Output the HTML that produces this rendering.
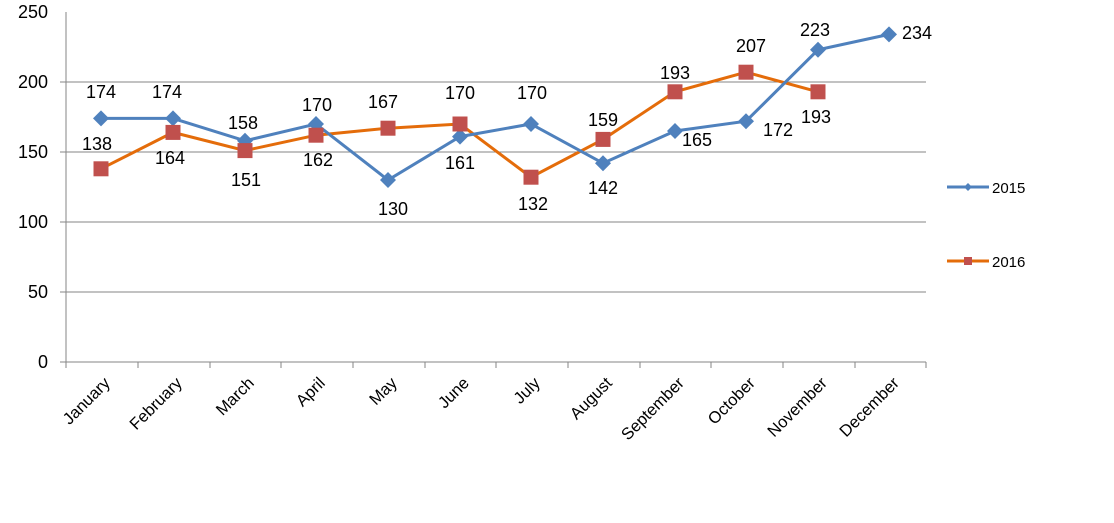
<!DOCTYPE html>
<html><head><style>body{margin:0;background:#fff}svg{display:block}text{font-family:"Liberation Sans",sans-serif;fill:#000}</style></head><body>
<svg width="1114" height="523" xmlns="http://www.w3.org/2000/svg">
<g stroke="#868686" stroke-width="1">
<line x1="60" y1="82" x2="926" y2="82"/><line x1="60" y1="152" x2="926" y2="152"/><line x1="60" y1="222" x2="926" y2="222"/><line x1="60" y1="292" x2="926" y2="292"/><line x1="60" y1="362" x2="926" y2="362"/>
<line x1="66" y1="12" x2="66" y2="362"/>
<line x1="66" y1="362" x2="66" y2="368"/><line x1="138" y1="362" x2="138" y2="368"/><line x1="210" y1="362" x2="210" y2="368"/><line x1="281" y1="362" x2="281" y2="368"/><line x1="353" y1="362" x2="353" y2="368"/><line x1="425" y1="362" x2="425" y2="368"/><line x1="496" y1="362" x2="496" y2="368"/><line x1="568" y1="362" x2="568" y2="368"/><line x1="640" y1="362" x2="640" y2="368"/><line x1="711" y1="362" x2="711" y2="368"/><line x1="783" y1="362" x2="783" y2="368"/><line x1="855" y1="362" x2="855" y2="368"/><line x1="926" y1="362" x2="926" y2="368"/>
</g>
<g font-size="18" text-anchor="end" dominant-baseline="central">
<text x="48" y="12">250</text><text x="48" y="82">200</text><text x="48" y="152">150</text><text x="48" y="222">100</text><text x="48" y="292">50</text><text x="48" y="362">0</text>
</g>
<g font-size="16.5" text-anchor="end">
<text transform="translate(111,384) rotate(-45)">January</text>
<text transform="translate(183,384) rotate(-45)">February</text>
<text transform="translate(255,384) rotate(-45)">March</text>
<text transform="translate(326,384) rotate(-45)">April</text>
<text transform="translate(398,384) rotate(-45)">May</text>
<text transform="translate(470,384) rotate(-45)">June</text>
<text transform="translate(541,384) rotate(-45)">July</text>
<text transform="translate(613,384) rotate(-45)">August</text>
<text transform="translate(685,384) rotate(-45)">September</text>
<text transform="translate(756,384) rotate(-45)">October</text>
<text transform="translate(828,384) rotate(-45)">November</text>
<text transform="translate(900,384) rotate(-45)">December</text>
</g>
<polyline fill="none" stroke="#E46C0A" stroke-width="3" points="101,168.8 173,132.4 245,150.6 316,135.2 388,128.2 460,124 531,177.2 603,139.4 675,91.8 746,72.2 818,91.8"/>
<polyline fill="none" stroke="#4F81BD" stroke-width="3" points="101,118.4 173,118.4 245,140.8 316,124 388,180 460,136.6 531,124 603,163.2 675,131 746,121.2 818,49.8 889,34.4"/>
<g fill="#4F81BD">
<polygon points="101,110.4 109,118.4 101,126.4 93,118.4"/><polygon points="173,110.4 181,118.4 173,126.4 165,118.4"/><polygon points="245,132.8 253,140.8 245,148.8 237,140.8"/><polygon points="316,116 324,124 316,132 308,124"/><polygon points="388,172 396,180 388,188 380,180"/><polygon points="460,128.6 468,136.6 460,144.6 452,136.6"/><polygon points="531,116 539,124 531,132 523,124"/><polygon points="603,155.2 611,163.2 603,171.2 595,163.2"/><polygon points="675,123 683,131 675,139 667,131"/><polygon points="746,113.2 754,121.2 746,129.2 738,121.2"/><polygon points="818,41.8 826,49.8 818,57.8 810,49.8"/><polygon points="889,26.4 897,34.4 889,42.4 881,34.4"/>
</g>
<g fill="#C0504D">
<rect x="93.5" y="161.3" width="15" height="15"/><rect x="165.5" y="124.9" width="15" height="15"/><rect x="237.5" y="143.1" width="15" height="15"/><rect x="308.5" y="127.7" width="15" height="15"/><rect x="380.5" y="120.7" width="15" height="15"/><rect x="452.5" y="116.5" width="15" height="15"/><rect x="523.5" y="169.7" width="15" height="15"/><rect x="595.5" y="131.9" width="15" height="15"/><rect x="667.5" y="84.3" width="15" height="15"/><rect x="738.5" y="64.7" width="15" height="15"/><rect x="810.5" y="84.3" width="15" height="15"/>
</g>
<g font-size="18" text-anchor="middle" dominant-baseline="central">
<text x="101" y="92">174</text><text x="167" y="92">174</text><text x="243" y="123">158</text><text x="317" y="105">170</text><text x="393" y="209">130</text><text x="460" y="163">161</text><text x="532" y="93">170</text><text x="603" y="188">142</text><text x="697" y="140">165</text><text x="778" y="130">172</text><text x="815" y="30">223</text><text x="917" y="33">234</text>
<text x="97" y="144">138</text><text x="170" y="158">164</text><text x="246" y="180">151</text><text x="318" y="160">162</text><text x="383" y="102">167</text><text x="460" y="93">170</text><text x="533" y="204">132</text><text x="603" y="120">159</text><text x="675" y="73">193</text><text x="751" y="46">207</text><text x="816" y="117">193</text>
</g>
<line x1="947" y1="187" x2="989" y2="187" stroke="#4F81BD" stroke-width="3"/>
<polygon points="968,183 972,187 968,191 964,187" fill="#4F81BD"/>
<text x="992" y="193" font-size="15">2015</text>
<line x1="947" y1="261" x2="989" y2="261" stroke="#E46C0A" stroke-width="3"/>
<rect x="964" y="257" width="8" height="8" fill="#C0504D"/>
<text x="992" y="267" font-size="15">2016</text>
</svg>
</body></html>
